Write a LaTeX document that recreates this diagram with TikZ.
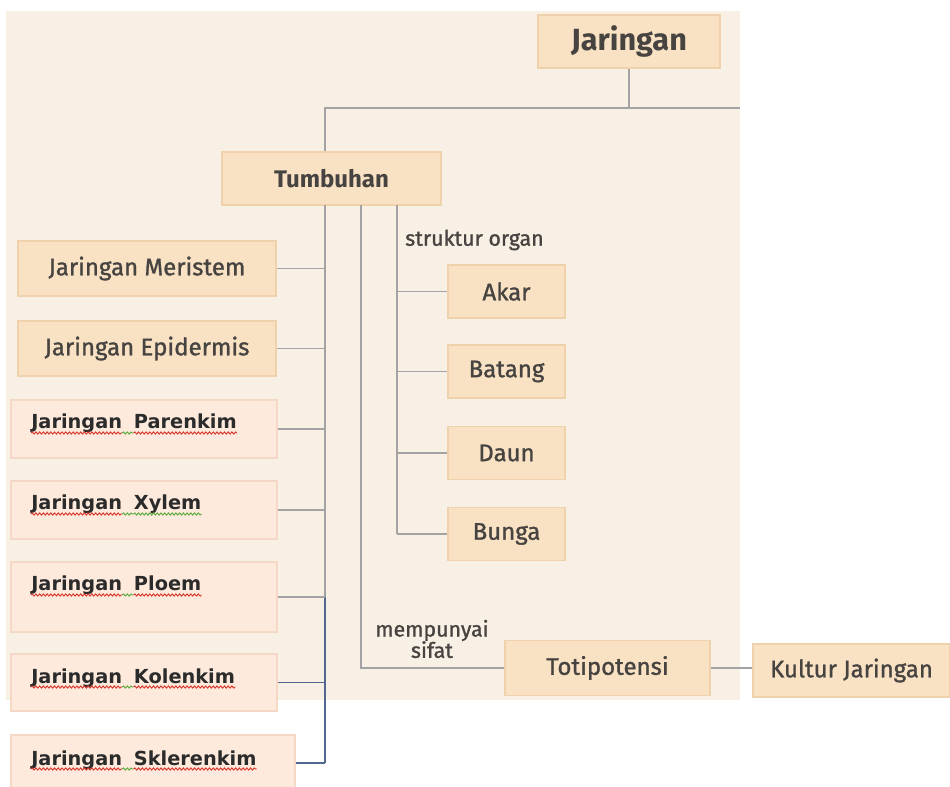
\documentclass[tikz,border=0pt]{standalone}
\usepackage{fontspec}
\setmainfont{Fira Sans}
\newfontfamily\medfont[FakeBold=1.2]{Fira Sans}
\newfontfamily\tagfont{DejaVu Sans}
\usetikzlibrary{decorations.pathmorphing}
\definecolor{panel}{HTML}{F8EFE5}
\definecolor{boxfill}{HTML}{F9E2C4}
\definecolor{boxline}{HTML}{EFD2AC}
\definecolor{pinkfill}{HTML}{FDEADC}
\definecolor{pinkline}{HTML}{F5D9C6}
\definecolor{wire}{HTML}{A3A3A3}
\definecolor{bluewire}{HTML}{52678F}
\definecolor{ink}{HTML}{464340}
\definecolor{darkink}{HTML}{2B2B2B}
\definecolor{squigred}{HTML}{D8342A}
\definecolor{squiggreen}{HTML}{5BAA3C}
\begin{document}
\begin{tikzpicture}[x=0.75pt,y=-0.75pt,
  dim/.style 2 args={minimum width={#1*0.75pt},minimum height={#2*0.75pt}},
  tanbox/.style={draw=boxline,fill=boxfill,line width=0.8pt,inner sep=0pt,text=ink,
     font=\medfont\fontsize{18}{20}\selectfont},
  pinkbox/.style={draw=pinkline,fill=pinkfill,line width=0.8pt,inner sep=0pt},
  tagtext/.style={anchor=base west,inner sep=0pt,text=darkink,
     font=\tagfont\bfseries\fontsize{14.5}{16}\selectfont},
  wave/.style={line width=0.7pt,decorate,
     decoration={snake,segment length=2.8pt,amplitude=0.8pt}},
  redwave/.style={wave,draw=squigred},
  greenwave/.style={wave,draw=squiggreen},
  conn/.style={draw=wire,line width=0.9pt},
  bconn/.style={draw=bluewire,line width=0.9pt},
  note/.style={inner sep=0pt,text=ink,font=\medfont\fontsize{16}{16}\selectfont,align=center}]
\useasboundingbox (0,0) rectangle (950,787);
\fill[white] (0,0) rectangle (950,787);
\fill[panel] (6,11) rectangle (740,700);

% top levels
\node[tanbox,dim={182}{53},font=\bfseries\fontsize{23}{25}\selectfont] (jar) at (629,41.5) {Jaringan};
\node[tanbox,dim={219}{53},font=\bfseries\fontsize{18}{20}\selectfont] (tum) at (331.5,178.5) {Tumbuhan};

% tissue boxes on the left
\node[tanbox,dim={258}{55}] (meri) at (147,268.5) {Jaringan Meristem};
\node[tanbox,dim={258}{55}] (epi) at (147,348.5) {Jaringan Epidermis};
\node[pinkbox,dim={266}{58}] (par) at (144,429) {};
\node[pinkbox,dim={266}{58}] (xyl) at (144,510) {};
\node[pinkbox,dim={266}{70}] (plo) at (144,597) {};
\node[pinkbox,dim={266}{57}] (kol) at (144,682.5) {};
\node[pinkbox,dim={284}{56}] (skl) at (153,763) {};

% two-word captions of the lower tissue boxes, with spell-check squiggles
\foreach \n/\yy/\w/\g in {par/429/Parenkim/squigred,xyl/510/Xylem/squiggreen,
                          plo/591/Ploem/squigred,kol/683/Kolenkim/squigred,
                          skl/765/Sklerenkim/squigred}{
  \node[tagtext] (\n A) at (31,\yy) {Jaringan};
  \node[tagtext] (\n B) at ([xshift=8.5pt]\n A.base east) {\w};
  \draw[redwave] ([yshift=-3pt]\n A.base west) -- ([yshift=-3pt]\n A.base east);
  \draw[greenwave] ([yshift=-3pt]\n A.base east) -- ([yshift=-3pt]\n B.base west);
  \draw[wave,draw=\g] ([yshift=-3pt]\n B.base west) -- ([yshift=-3pt]\n B.base east);
}

% organ boxes
\node[tanbox,dim={117}{53}] (akar) at (506.5,291.5) {Akar};
\node[tanbox,dim={117}{53}] (batang) at (506.5,371.5) {Batang};
\node[tanbox,dim={117}{53}] (daun) at (506.5,453) {Daun};
\node[tanbox,dim={117}{53}] (bunga) at (506.5,534) {Bunga};

% totipotency branch
\node[tanbox,dim={205}{55}] (toti) at (607.5,668) {Totipotensi};
\node[tanbox,dim={197}{53}] (kultur) at (851.5,670.5) {Kultur Jaringan};

\node[note,anchor=west] (lblorgan) at (405,240) {struktur organ};
\node[note] (lblsifat) at (432,639) {mempunyai\\sifat};

% junction points
\coordinate (hubL) at (325,108);
\coordinate (hubR) at (740,108);
\coordinate (trunk) at (325,205);
\coordinate (sifat) at (361,205);
\coordinate (organ) at (397,205);

% connectors
\draw[conn] (jar.south) |- (hubL) -- (hubL |- tum.north);
\draw[conn] (jar.south |- hubR) -- (hubR);
\draw[conn] (trunk) -- (trunk |- plo.east);
\draw[bconn] (trunk |- plo.east) -- (trunk |- skl.east);
\foreach \n in {meri,epi,par,xyl}
  \draw[conn] (\n.east) -- (\n.east -| trunk);
\draw[conn] (plo.east) -- (plo.east -| trunk);
\draw[bconn] (kol.east) -- (kol.east -| trunk);
\draw[bconn] (skl.east) -- (skl.east -| trunk);

\draw[conn] (organ) -- (organ |- bunga.west);
\foreach \n in {akar,batang,daun,bunga}
  \draw[conn] (\n.west -| organ) -- (\n.west);

\draw[conn] (sifat) |- (toti.west);
\draw[conn] (toti.east) -- (toti.east -| kultur.west);
\end{tikzpicture}
\end{document}
